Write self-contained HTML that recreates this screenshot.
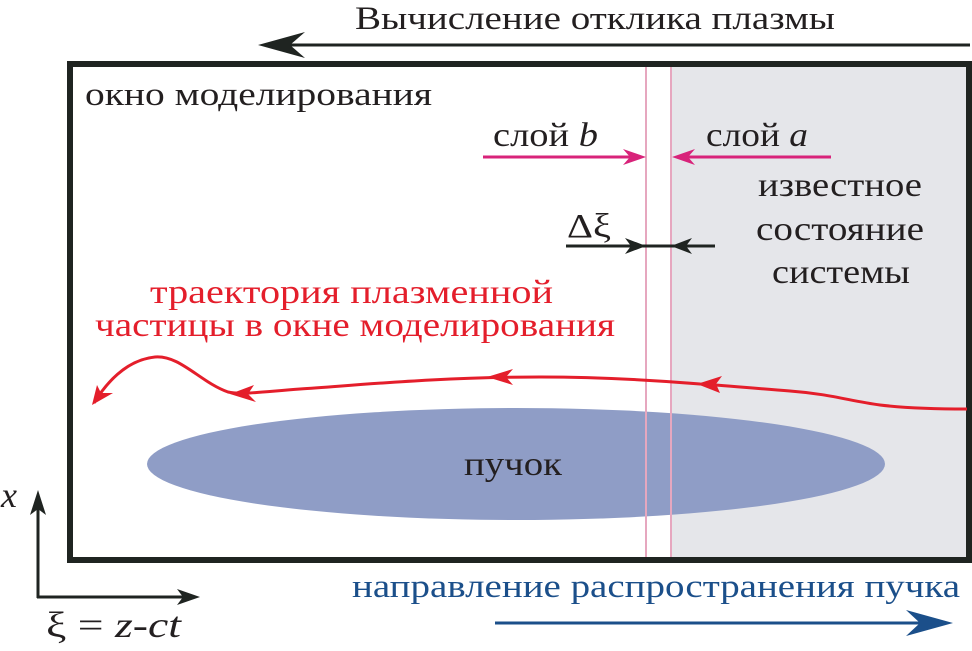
<!DOCTYPE html>
<html><head><meta charset="utf-8"><style>
html,body{margin:0;padding:0;background:#fff;}
svg{display:block;}
text{font-family:"Liberation Serif",serif;}
</style></head><body>
<svg width="972" height="651" viewBox="0 0 972 651" xmlns="http://www.w3.org/2000/svg">
<rect x="0" y="0" width="972" height="651" fill="#fff"/>
<rect x="671" y="64" width="298" height="496" fill="#e5e6ea"/>
<ellipse cx="516" cy="464" rx="369" ry="56" fill="#8f9dc6"/>
<line x1="646" y1="64" x2="646" y2="560" stroke="#e6a7bf" stroke-width="2"/>
<line x1="671" y1="64" x2="671" y2="560" stroke="#e6a7bf" stroke-width="2"/>
<rect x="70" y="64" width="899" height="496" fill="none" stroke="#1f2421" stroke-width="6"/>

<line x1="285" y1="45" x2="970" y2="45" stroke="#1f2421" stroke-width="3"/>
<path d="M258 45 L305 32 L290 45 L305 58 Z" fill="#1f2421"/>
<text x="355" y="29" font-size="33" fill="#231f20" textLength="480" lengthAdjust="spacingAndGlyphs">Вычисление отклика плазмы</text>

<text x="85" y="105" font-size="33" fill="#231f20" textLength="347" lengthAdjust="spacingAndGlyphs">окно моделирования</text>

<text x="493" y="146" font-size="34" fill="#231f20" textLength="105" lengthAdjust="spacingAndGlyphs">слой <tspan font-style="italic">b</tspan></text>
<line x1="483" y1="157" x2="635" y2="157" stroke="#d8237a" stroke-width="3"/>
<path d="M646 157 L623 149 L630 157 L623 165 Z" fill="#d8237a"/>
<text x="706" y="146" font-size="34" fill="#231f20" textLength="102" lengthAdjust="spacingAndGlyphs">слой <tspan font-style="italic">a</tspan></text>
<line x1="683" y1="157" x2="831" y2="157" stroke="#d8237a" stroke-width="3"/>
<path d="M672 157 L695 149 L688 157 L695 165 Z" fill="#d8237a"/>

<text x="567" y="237" font-size="34" fill="#231f20" textLength="44" lengthAdjust="spacingAndGlyphs">Δξ</text>
<line x1="566" y1="246" x2="715" y2="246" stroke="#1f2421" stroke-width="3"/>
<path d="M646 246 L625 238 L631 246 L625 254 Z" fill="#1f2421"/>
<path d="M671 246 L692 238 L686 246 L692 254 Z" fill="#1f2421"/>

<text x="758" y="196" font-size="34" fill="#231f20" textLength="164" lengthAdjust="spacingAndGlyphs">известное</text>
<text x="756" y="240" font-size="34" fill="#231f20" textLength="168" lengthAdjust="spacingAndGlyphs">состояние</text>
<text x="772" y="283" font-size="34" fill="#231f20" textLength="138" lengthAdjust="spacingAndGlyphs">системы</text>

<text x="150" y="303" font-size="34" fill="#e41e2b" textLength="403" lengthAdjust="spacingAndGlyphs">траектория плазменной</text>
<text x="95" y="336" font-size="34" fill="#e41e2b" textLength="520" lengthAdjust="spacingAndGlyphs">частицы в окне моделирования</text>

<path d="M967 409 C930 409 905 408 880 405 C850 401 830 394 790 391 C750 388 720 385 700 384 C640 379 580 377 540 377 C440 377 360 385 300 389 C260 392 240 395 228 392 C200 382 180 355 155 357 C125 360 105 385 94 403" fill="none" stroke="#e41e2b" stroke-width="3"/>
<path d="M697 384 L722 376 L716 384 L720 393 Z" fill="#e41e2b"/>
<path d="M487 377 L513 369 L506 377 L513 385 Z" fill="#e41e2b"/>
<path d="M230 394 L254 385 L248 394 L256 402 Z" fill="#e41e2b"/>
<path d="M92 405 L97 385 L101 393 L113 393 Z" fill="#e41e2b"/>

<text x="464" y="475" font-size="34" fill="#231f20" textLength="98" lengthAdjust="spacingAndGlyphs">пучок</text>

<line x1="38" y1="598" x2="38" y2="505" stroke="#1f2421" stroke-width="3"/>
<path d="M38 490 L30 515 L38 509 L46 515 Z" fill="#1f2421"/>
<line x1="37" y1="597" x2="190" y2="597" stroke="#1f2421" stroke-width="3"/>
<path d="M200 597 L177 589 L183 597 L177 605 Z" fill="#1f2421"/>
<text x="1" y="507" font-size="36" font-style="italic" fill="#231f20">x</text>
<text x="46" y="637" font-size="36" fill="#231f20" textLength="135" lengthAdjust="spacingAndGlyphs">ξ = <tspan font-style="italic">z</tspan>-<tspan font-style="italic">ct</tspan></text>

<text x="352" y="597" font-size="33" fill="#1b4f8a" textLength="608" lengthAdjust="spacingAndGlyphs">направление распространения пучка</text>
<line x1="495" y1="623" x2="935" y2="623" stroke="#1b4f8a" stroke-width="3"/>
<path d="M953 623 L906 610 L920 623 L906 636 Z" fill="#1b4f8a"/>
</svg>
</body></html>
